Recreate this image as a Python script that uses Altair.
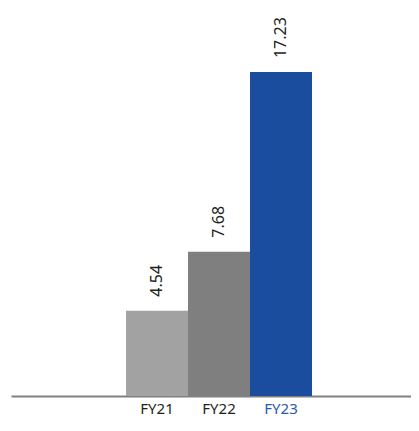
import altair as alt
import pandas as pd

categories = ["FY21", "FY22", "FY23"]
values = [4.54, 7.68, 17.23]
bar_colors = ["#a2a2a2", "#7f7f7f", "#1b4d9f"]
value_labels = ["4.54", "7.68", "17.23"]

df = pd.DataFrame({"cat": categories, "val": values, "lab": value_labels})
x_domain = ["_a"] + categories + ["_b"]

x_enc = alt.X(
    "cat:N",
    scale=alt.Scale(domain=x_domain, paddingInner=0, paddingOuter=0.726, align=0.589),
    axis=alt.Axis(
        title=None,
        labelAngle=0,
        ticks=False,
        grid=False,
        domainColor="#808080",
        domainWidth=2,
        labelPadding=5,
        labelFont="Noto Sans",
        labelFontSize=15,
        labelExpr="indexof(datum.value, '_') == 0 ? '' : datum.value",
        labelColor=alt.expr("datum.value == 'FY23' ? '#2a5aa8' : '#231f20'"),
    ),
)
y_enc = alt.Y("val:Q", scale=alt.Scale(domain=[0, 20.64], nice=False), axis=None)

bars = alt.Chart(df).mark_bar().encode(
    x=x_enc,
    y=y_enc,
    color=alt.Color("cat:N", scale=alt.Scale(domain=categories, range=bar_colors), legend=None),
)

texts = alt.Chart(df).mark_text(
    angle=270, align="left", baseline="middle", dx=14,
    font="Noto Sans", fontSize=16, color="#231f20",
).encode(x=x_enc, y=y_enc, text="lab:N")

chart = (bars + texts).properties(
    width=400,
    height=388,
    padding={"left": 3, "top": 0, "right": 0, "bottom": 22},
    autosize=alt.AutoSizeParams(type="none"),
).configure_view(stroke=None)

chart.save("out.html", embed_options={"renderer": "svg", "actions": False})
